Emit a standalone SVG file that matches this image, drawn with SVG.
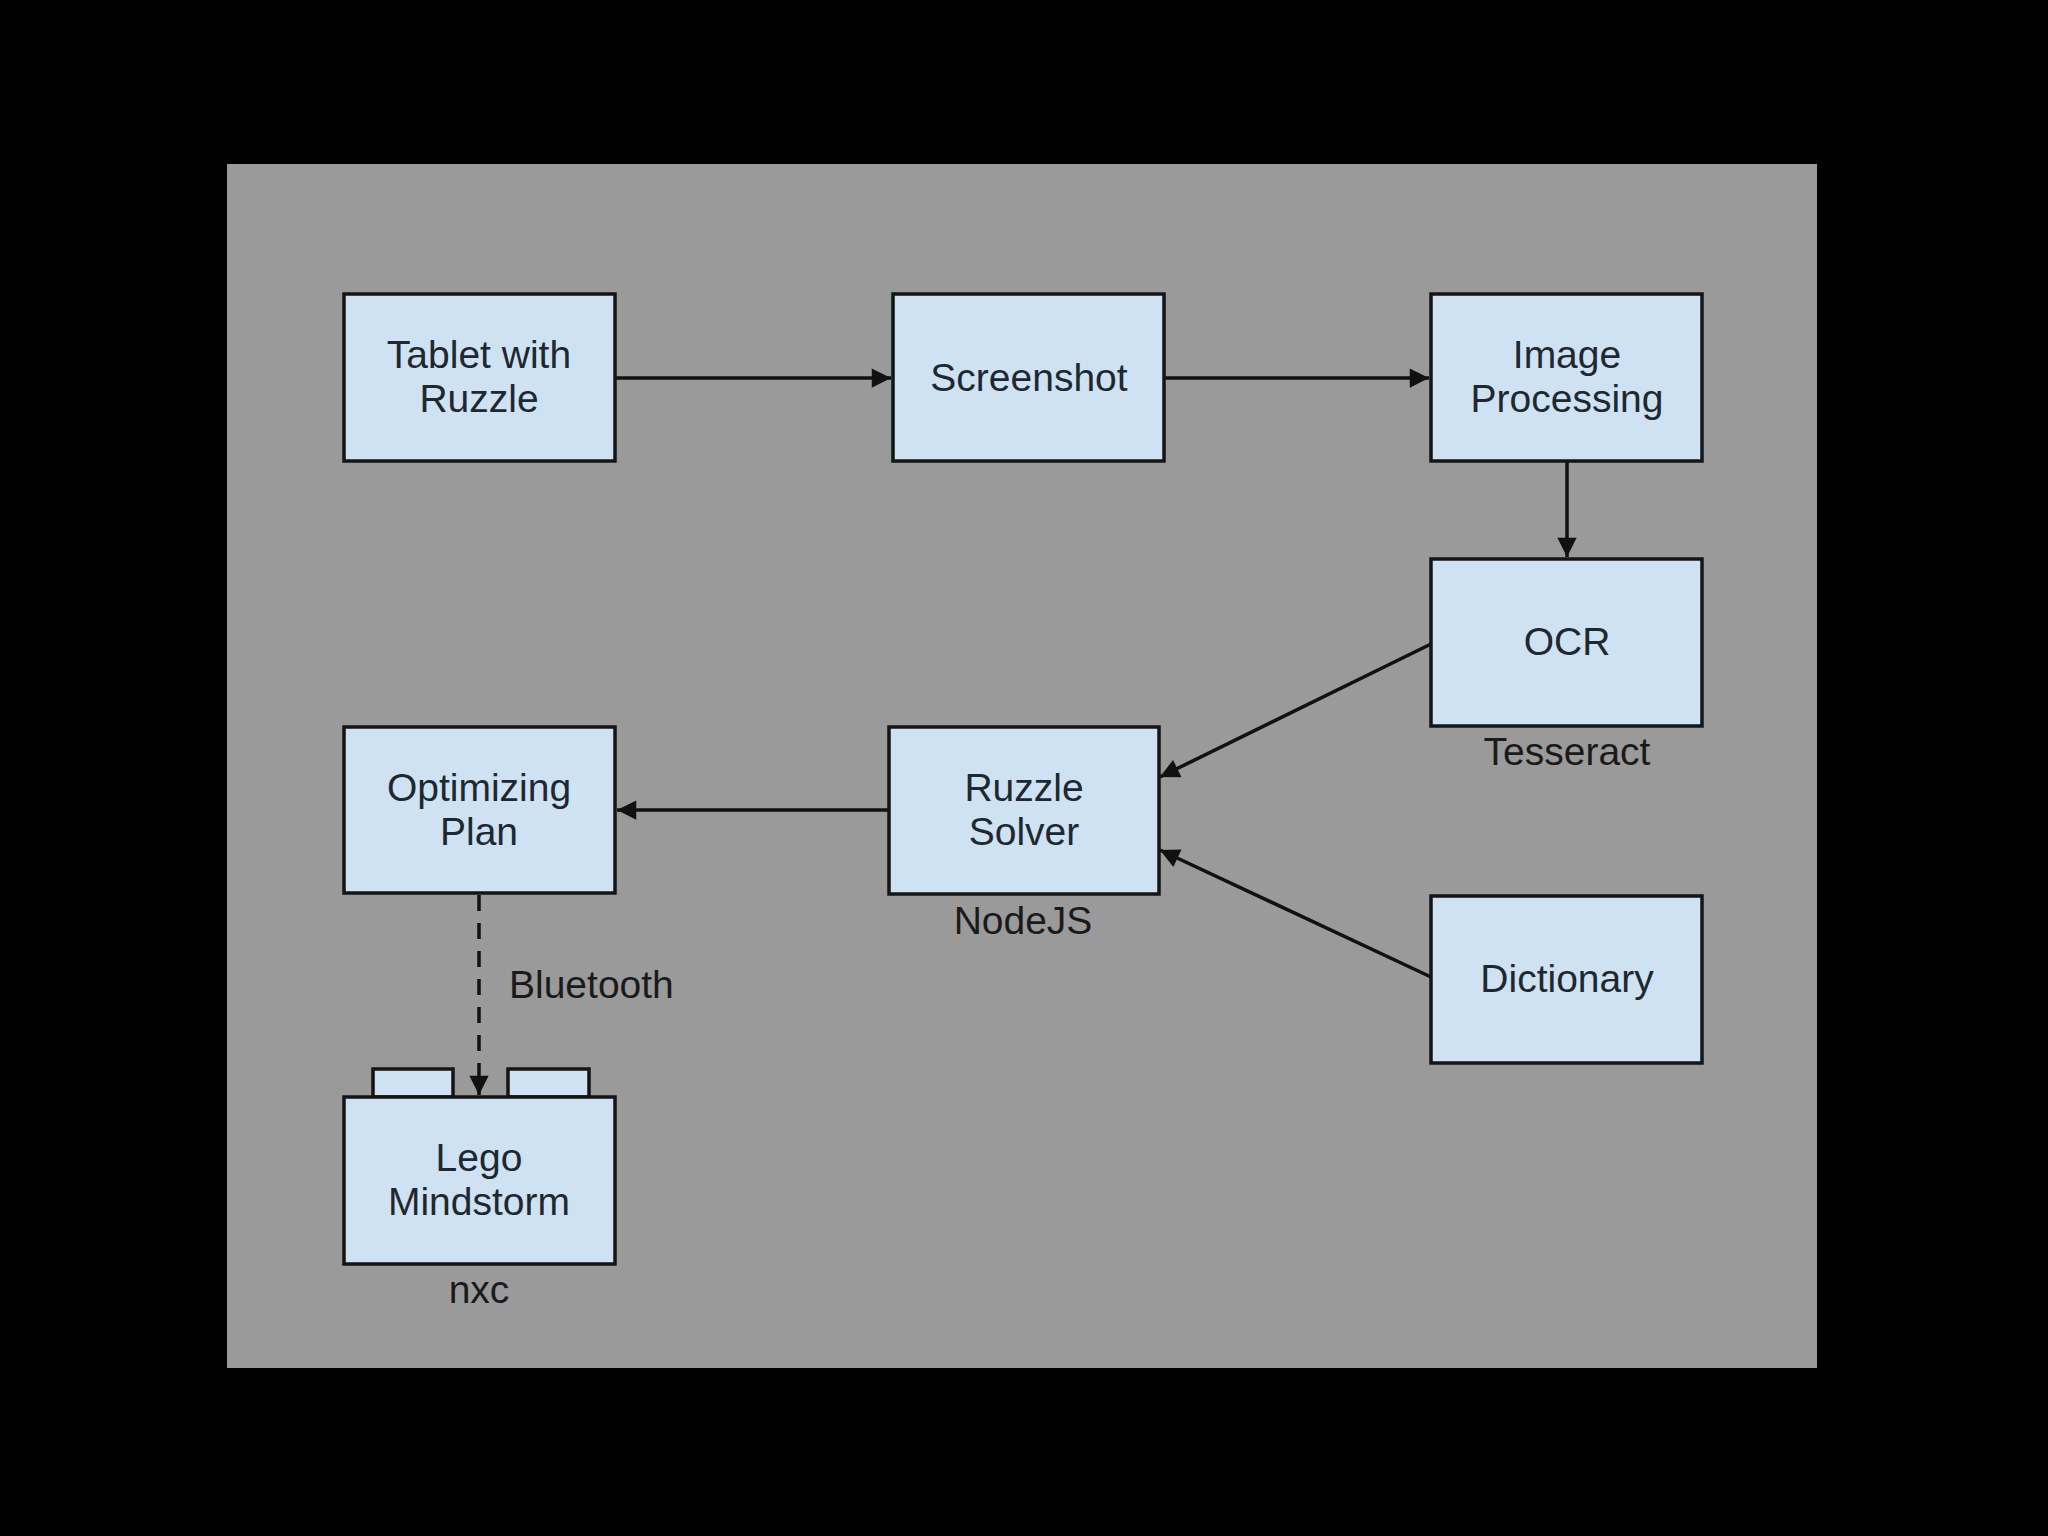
<svg xmlns="http://www.w3.org/2000/svg" width="2048" height="1536" viewBox="0 0 2048 1536">
<style>
.box{fill:#cfe2f3;stroke:#151515;stroke-width:3.5}
.t{font-family:"Liberation Sans",Arial,sans-serif;font-size:39px;fill:#1e2830;text-anchor:middle}
.lbl{font-family:"Liberation Sans",Arial,sans-serif;font-size:39px;fill:#1a1a1a}
.c{stroke:#111;stroke-width:3.5;fill:none}
</style>
<defs>
<marker id="ah" viewBox="0 0 10 10" refX="10" refY="5" markerWidth="6.5" markerHeight="5.5" markerUnits="strokeWidth" orient="auto">
<path d="M0,0 L10,5 L0,10 z" fill="#111"/>
</marker>
</defs>
<rect width="2048" height="1536" fill="#000"/>
<rect x="227" y="164" width="1590" height="1204" fill="#9b9a9b"/>
<g id="connectors">
<line class="c" x1="615" y1="378" x2="891" y2="378" marker-end="url(#ah)"/>
<line class="c" x1="1164" y1="378" x2="1429" y2="378" marker-end="url(#ah)"/>
<line class="c" x1="1567" y1="461" x2="1567" y2="557" marker-end="url(#ah)"/>
<line class="c" x1="1431" y1="644" x2="1160" y2="777" marker-end="url(#ah)"/>
<line class="c" x1="1431" y1="977" x2="1160" y2="850" marker-end="url(#ah)"/>
<line class="c" x1="888" y1="810" x2="617" y2="810" marker-end="url(#ah)"/>
<line class="c" x1="479" y1="895" x2="479" y2="1095" stroke-dasharray="16,12" marker-end="url(#ah)"/>
</g>
<g id="tablet">
<rect class="box" x="344" y="294" width="271" height="167"/>
<text class="t" x="479" y="368">Tablet with</text>
<text class="t" x="479" y="412">Ruzzle</text>
</g>
<g id="screenshot">
<rect class="box" x="893" y="294" width="271" height="167"/>
<text class="t" x="1029" y="391">Screenshot</text>
</g>
<g id="image-processing">
<rect class="box" x="1431" y="294" width="271" height="167"/>
<text class="t" x="1567" y="368">Image</text>
<text class="t" x="1567" y="412">Processing</text>
</g>
<g id="ocr">
<rect class="box" x="1431" y="559" width="271" height="167"/>
<text class="t" x="1567" y="655">OCR</text>
<text class="lbl" x="1567" y="765" text-anchor="middle">Tesseract</text>
</g>
<g id="ruzzle-solver">
<rect class="box" x="889" y="727" width="270" height="167"/>
<text class="t" x="1024" y="801">Ruzzle</text>
<text class="t" x="1024" y="845">Solver</text>
<text class="lbl" x="1023" y="934" text-anchor="middle">NodeJS</text>
</g>
<g id="optimizing-plan">
<rect class="box" x="344" y="727" width="271" height="166"/>
<text class="t" x="479" y="801">Optimizing</text>
<text class="t" x="479" y="845">Plan</text>
</g>
<g id="dictionary">
<rect class="box" x="1431" y="896" width="271" height="167"/>
<text class="t" x="1567" y="992">Dictionary</text>
</g>
<g id="lego-mindstorm">
<rect class="box" x="373" y="1069" width="80" height="28"/>
<rect class="box" x="508" y="1069" width="81" height="28"/>
<rect class="box" x="344" y="1097" width="271" height="167"/>
<text class="t" x="479" y="1171">Lego</text>
<text class="t" x="479" y="1215">Mindstorm</text>
<text class="lbl" x="479" y="1303" text-anchor="middle">nxc</text>
</g>
<text class="lbl" x="509" y="998">Bluetooth</text>
</svg>
